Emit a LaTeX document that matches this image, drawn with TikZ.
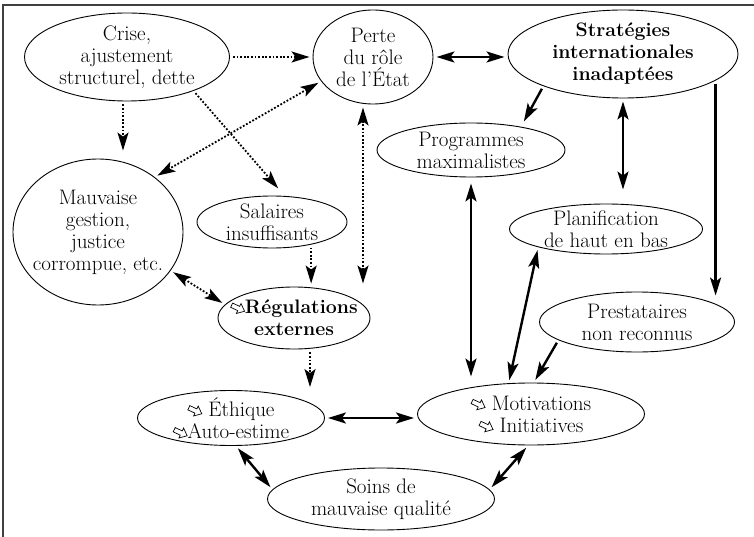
\documentclass[tikz,border=0pt]{standalone}
\usepackage{fontspec}
\usetikzlibrary{arrows.meta,shapes.geometric}

% petite fleche creuse (baisse)
\newcommand{\baisse}{\tikz[rotate=-25,scale=1.3,line width=0.7pt]\draw (0pt,-1.8pt) -- (6pt,-1.8pt) -- (6pt,-4.2pt) -- (11pt,0pt) -- (6pt,4.2pt) -- (6pt,1.8pt) -- (0pt,1.8pt) -- cycle;}

\begin{document}
\begin{tikzpicture}[
    x=1pt, y=-1pt,
    >={Stealth[length=18pt,width=11pt,inset=4pt]},
    bulle/.style={ellipse, draw=black, line width=0.9pt, inner xsep=-15pt, inner ysep=-12pt, align=center, font=\fontsize{21}{22}\selectfont},
    grasse/.style={bulle, font=\fontsize{19.5}{22}\selectfont\bfseries},
    lien/.style={line width=2.4pt, shorten <=3pt, shorten >=3pt},
    pointille/.style={line width=1.8pt, dash pattern=on 1.8pt off 1.8pt, shorten <=3pt, shorten >=3pt},
    cadre/.style={line width=1.4pt, draw=black!75}
    ]
    \useasboundingbox (0,0) rectangle (754,537);
    \draw[cadre] (3,537) -- (3,5) -- (754,5);

\node[bulle, minimum width=205pt, minimum height=88pt] (crise) at (127,57) {Crise,\\ajustement\\structurel, dette};
\node[bulle, minimum width=120pt, minimum height=94pt] (perte) at (373,57) {Perte\\du rôle\\de l’État};
\node[grasse, minimum width=230pt, minimum height=88pt] (strat) at (623,54) {Stratégies\\internationales\\inadaptées};
\node[bulle, minimum width=188pt, minimum height=54pt] (prog) at (471,150) {Programmes\\maximalistes};
\node[bulle, minimum width=193pt, minimum height=50pt] (planif) at (606,229) {Planification\\de haut en bas};
\node[bulle, minimum width=170pt, minimum height=146pt] (mauvaise) at (98,232) {Mauvaise\\gestion,\\justice\\corrompue, etc.};
\node[bulle, minimum width=150pt, minimum height=52pt] (salaires) at (272,222) {Salaires\\insuffisants};
\node[grasse, minimum width=152pt, minimum height=62pt] (regul) at (294,318) {\baisse Régulations\\externes};
\node[bulle, minimum width=195pt, minimum height=60pt] (prest) at (637,322) {Prestataires\\non reconnus};
\node[bulle, minimum width=187pt, minimum height=55pt] (ethique) at (231,418) {\baisse\ Éthique\\\baisse Auto-estime};
\node[bulle, minimum width=227pt, minimum height=62pt] (motiv) at (531,414) {\baisse\ Motivations\\\baisse\ Initiatives};
\node[bulle, minimum width=227pt, minimum height=62pt] (soins) at (381,499) {Soins de\\mauvaise qualité};

% liens en pointille
\draw[pointille,->] (crise.east) -- (perte.west);
\draw[pointille,->,shorten >=8pt] ([xshift=-4pt]crise.south) -- ([xshift=-4pt]crise.south |- mauvaise.north);
\draw[pointille,->,shorten >=10pt] (crise.-27) -- (salaires.64);
\draw[pointille,<->] (perte.205) -- (mauvaise.44);
\draw[pointille,<->] ([xshift=-10pt]perte.south) -- ([xshift=-10pt]perte.south |- regul.north);
\draw[pointille,->] (salaires.-30) -- (salaires.-30 |- regul.north);
\draw[pointille,<->] (mauvaise.-28) -- (regul.169);
\draw[pointille,->] ([xshift=16pt]regul.south) -- ([xshift=16pt]regul.south |- ethique.north);

% liens pleins
\draw[lien,<->] (perte.east) -- (perte.east -| strat.west);
\draw[lien,->,shorten >=6pt] (strat.202) -- (prog.25);
\draw[lien,<->,shorten >=14pt] (strat.south) -- (strat.south |- planif.north);
\draw[lien,->,shorten >=-4pt] (strat.-16) -- (strat.-16 |- prest.north);
\draw[lien,<->,shorten <=6pt,shorten >=6pt] (prog.south) -- (prog.south |- motiv.north);
\draw[lien,<->] (planif.195) -- (motiv.126);
\draw[lien,->] (prest.193) -- (motiv.85);
\draw[lien,<->] (ethique.east) -- (ethique.east -| motiv.west);
\draw[lien,<->] (ethique.-80) -- (soins.175);
\draw[lien,<->] (motiv.-95) -- (soins.5);
\end{tikzpicture}
\end{document}
